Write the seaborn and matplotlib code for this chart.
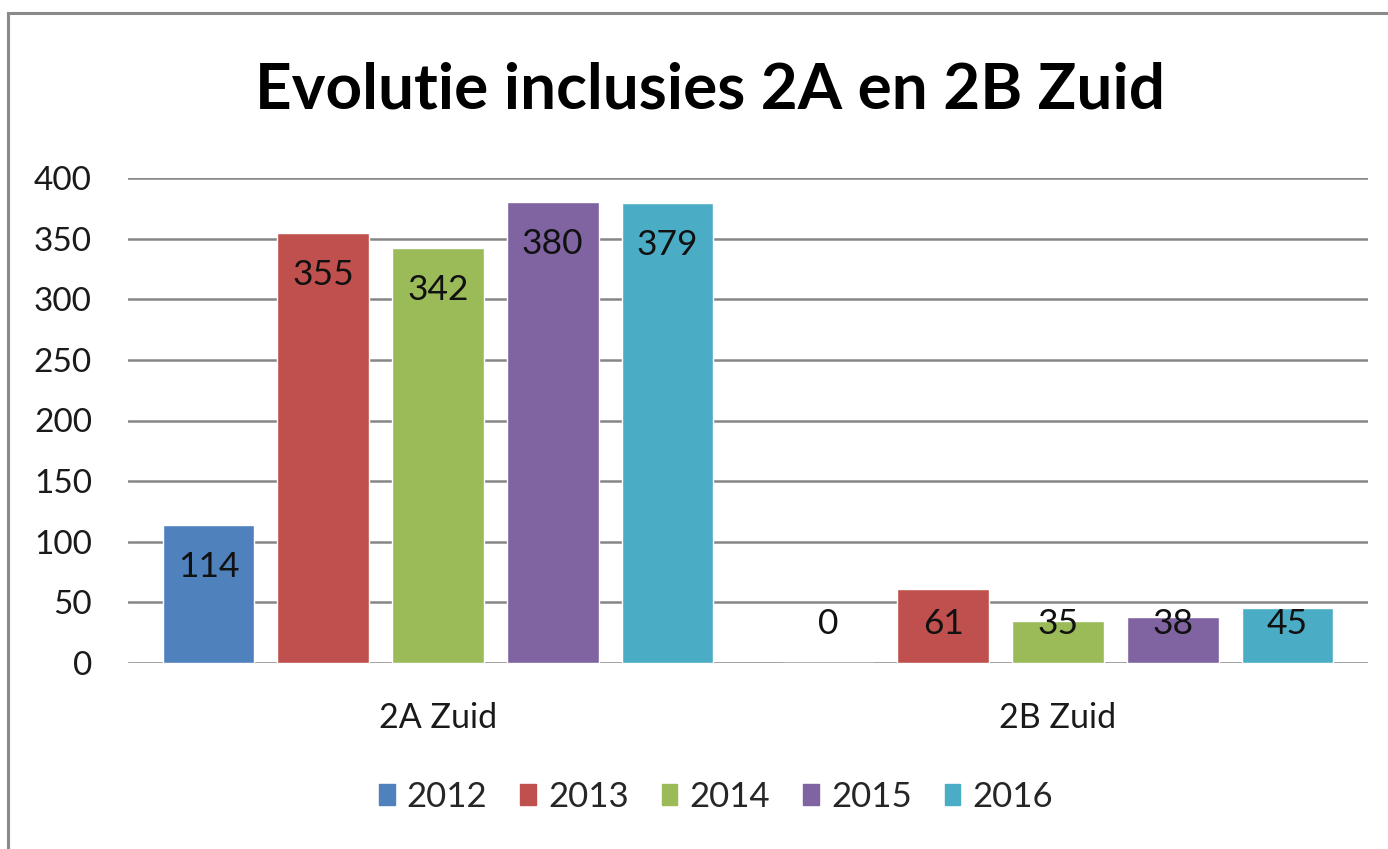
import matplotlib
matplotlib.use("Agg")
import matplotlib.pyplot as plt
import seaborn as sns
import pandas as pd
from matplotlib.patches import Patch, Rectangle

categories = ["2A Zuid", "2B Zuid"]
years = ["2012", "2013", "2014", "2015", "2016"]
values_2A = [114, 355, 342, 380, 379]
values_2B = [0, 61, 35, 38, 45]
colors = ["#4F81BD", "#C0504D", "#9BBB59", "#8064A2", "#4BACC6"]
title = "Evolutie inclusies 2A en 2B Zuid"
yticks = [0, 50, 100, 150, 200, 250, 300, 350, 400]

rows = []
for cat, vals in zip(categories, [values_2A, values_2B]):
    for yr, v in zip(years, vals):
        rows.append({"cat": cat, "year": yr, "value": v})
df = pd.DataFrame(rows)

sns.set_theme(style="white")
plt.rcParams["font.family"] = ["Lato", "DejaVu Sans"]

W, H = 1388, 849
fig = plt.figure(figsize=(W / 100, H / 100), dpi=100)
ax = fig.add_axes([128 / W, 1 - 663 / H, (1368 - 128) / W, (663 - 178) / H])

ax.set_axisbelow(True)
ax.yaxis.grid(True, color="#868686", linewidth=1.8)
ax.xaxis.grid(False)

sns.barplot(data=df, x="cat", y="value", hue="year", hue_order=years,
            palette=colors, width=0.925, gap=0.2, saturation=1,
            legend=False, ax=ax, errorbar=None)

ax.set_ylim(0, 400)
ax.set_xlim(-0.5, 1.5)
ax.set_yticks(yticks)
ax.set_yticklabels([str(t) for t in yticks], fontsize=24, color="#1a1a1a")
ax.tick_params(axis="y", length=0, pad=26)
ax.tick_params(axis="x", length=0, pad=28, labelsize=24.5, labelcolor="#1a1a1a")
ax.set_xlabel("")
ax.set_ylabel("")
for s in ax.spines.values():
    s.set_visible(False)

# data labels (inside end, clamped for short bars)
slot = 0.925 / len(years)
for ci, vals in enumerate([values_2A, values_2B]):
    for yi, v in enumerate(vals):
        xc = ci - 0.925 / 2 + slot * (yi + 0.5)
        yl = max(v - 34.6, 31.8)
        ax.text(xc, yl, str(v), ha="center", va="center", fontsize=25.5,
                color="#111111")

fig.text(710 / W, 1 - 90 / H, title, ha="center", va="center",
         fontsize=46, fontweight="bold", color="black")

handles = [Patch(facecolor=c, edgecolor=c) for c in colors]
fig.legend(handles, years, loc="center", ncol=5, frameon=False,
           bbox_to_anchor=(716 / W, 1 - 797 / H), fontsize=25,
           handlelength=0.45, handleheight=0.55, handletextpad=0.35,
           columnspacing=0.95)

fig.patches.append(Rectangle((7.5 / W, -0.1), 1.2, 1 - 12.5 / H + 0.1,
                             transform=fig.transFigure, fill=False,
                             edgecolor="#8a8a8a", linewidth=2.2))

fig.savefig("out.png", dpi=100)
